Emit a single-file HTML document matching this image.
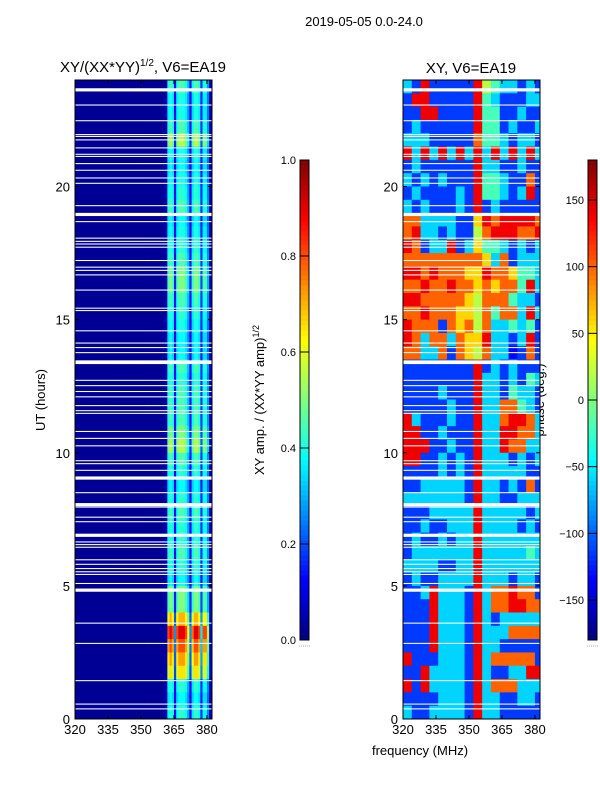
<!DOCTYPE html>
<html><head><meta charset="utf-8">
<style>
body{margin:0;background:#fff;width:600px;height:800px;overflow:hidden;font-family:"Liberation Sans",sans-serif}
svg text{font-family:"Liberation Sans",sans-serif;fill:#000}
</style></head>
<body>
<svg id="fig" width="600" height="800" viewBox="0 0 600 800" xmlns="http://www.w3.org/2000/svg">
<text x="364" y="26" font-size="13" text-anchor="middle">2019-05-05 0.0-24.0</text>
<text x="143" y="72" font-size="15" text-anchor="middle">XY/(XX*YY)<tspan font-size="10" dy="-6">1/2</tspan><tspan dy="6">, V6=EA19</tspan></text>
<text x="471" y="73" font-size="15" text-anchor="middle">XY, V6=EA19</text>
<text x="45" y="400" font-size="13" text-anchor="middle" transform="rotate(-90 45 400)">UT (hours)</text>
<text x="420" y="755" font-size="13" text-anchor="middle">frequency (MHz)</text>
<text x="264" y="400" font-size="13" text-anchor="middle" transform="rotate(-90 264 400)">XY amp. / (XX*YY amp)<tspan font-size="9" dy="-5">1/2</tspan></text>
<text x="544" y="400" font-size="13" text-anchor="middle" transform="rotate(-90 544 400)">phase (deg.)</text>
<g id="g"></g>
</svg>
<script>
// ---- data ----
const yTicks = [0,5,10,15,20];
const xTicks = [320,335,350,365,380];
const ampTicks = [0.0,0.2,0.4,0.6,0.8,1.0];
const phaseTicks = [-150,-100,-50,0,50,100,150];
// left panel: per-0.5h row level (top row = 23.5-24h) and per-1MHz column profile (320..382)
const ampRowLevel = [0.45,0.4,0.4,0.45,0.55,0.4,0.38,0.4,0.42,0.45,0.38,0.4,0.42,0.45,0.5,0.5,0.45,0.42,0.4,0.38,0.38,0.45,0.42,0.45,0.45,0.45,0.5,0.55,0.45,0.42,0.38,0.42,0.45,0.42,0.42,0.45,0.42,0.38,0.5,0.5,0.7,0.9,0.8,0.72,0.65,0.42,0.38,0.42];
const ampColProfile = [0.02,0.02,0.02,0.02,0.02,0.02,0.02,0.02,0.02,0.02,0.02,0.02,0.02,0.02,0.02,0.02,0.02,0.02,0.02,0.02,0.02,0.02,0.02,0.02,0.02,0.02,0.02,0.02,0.02,0.02,0.02,0.02,0.02,0.02,0.02,0.02,0.02,0.02,0.02,0.02,0.03,0.05,0.9,1,0.9,0.3,0.9,1,1,1,0.9,0.7,0.3,0.85,1,1,0.9,0.4,0.9,0.9,0.6,0.1,0.1];
// right panel: phase codes per 0.5h row (top first), 16 cols of 4 MHz
const phaseCodeDeg = [-170,-135,-115,-60,-20,20,60,100,140,170];
const phaseRows = ["3282222285433232","2882222284322233","2288222284422322","2322222284423223","3332222274432332","8383838383838383","2322222283322322","3232322284432272","2322223284432382","3232223282322222","7733332268788887","7833232257888778","8723382364432323","7777777776372333","8878777668776443","7787787767677483","8877777657774332","7787776657477383","8777276757334342","8737737668332382","7733727657331272","2222222282323222","2222222283323243","2222322283324332","2222232283377432","8322232283378873","8822322283388773","8882232283387733","8822323283332323","2222323283333322","2233333283323272","3333333283322333","2223333383333323","2232233383333232","2322323383333333","2333333383333343","3333223383333333","2322333383332332","2238333283778772","2228333283778877","2228333283233333","2228333283337777","2228333283322222","8222333283777772","2283333283223388","8283333283777333","2222333283322332","3223333283322222"];
// flagged (blank) times in UT hours and their durations
const gapUT = [23.63,23.06,22.47,21.95,21.88,21.75,21.45,21.21,21.13,20.86,20.61,20.32,20.12,19.28,18.95,18.68,18.06,17.94,17.84,17.72,17.22,16.97,16.85,16.68,16.11,15.43,15.34,14.58,14.12,13.95,13.76,13.40,12.72,12.52,12.30,12.10,11.77,11.58,11.48,10.80,10.54,10.26,9.70,9.59,9.34,9.05,8.50,8.05,7.96,7.58,7.41,6.90,6.65,6.55,6.45,5.98,5.81,5.65,5.53,5.43,5.09,4.84,3.60,2.84,1.44,0.56,0.38];
const gapDur = [0.12,0.04,0.04,0.04,0.04,0.04,0.04,0.04,0.04,0.04,0.04,0.04,0.04,0.04,0.12,0.04,0.04,0.04,0.04,0.04,0.04,0.04,0.04,0.04,0.04,0.04,0.04,0.04,0.04,0.04,0.04,0.14,0.04,0.04,0.04,0.04,0.04,0.04,0.04,0.04,0.04,0.04,0.04,0.04,0.04,0.12,0.04,0.12,0.04,0.04,0.04,0.12,0.04,0.04,0.04,0.04,0.04,0.04,0.04,0.04,0.04,0.12,0.04,0.04,0.04,0.04,0.04];

// ---- helpers ----
const NS="http://www.w3.org/2000/svg", G=document.getElementById('g');
function mk(t,a,p){const e=document.createElementNS(NS,t);for(const k in a)e.setAttribute(k,a[k]);(p||G).appendChild(e);return e;}
function jet(v){v=Math.max(0,Math.min(1,v));
 const f=x=>Math.round(255*Math.max(0,Math.min(1,x)));
 const r=f(1.5-Math.abs(4*v-3)),g=f(1.5-Math.abs(4*v-2)),b=f(1.5-Math.abs(4*v-1));
 return `rgb(${r},${g},${b})`;}
const T=80,B=719, F0=320,F1=382.3;
const yS=u=>B-(u/24)*(B-T);
function panel(L,R,name){
 const xS=f=>L+(f-F0)/(F1-F0)*(R-L);
 const grp=mk('g',{});
 
 
 return {xS,grp,L,R};
}
function axes(p,name){
 const {xS,L,R}=p;
 for(const u of gapUT.map((u,i)=>[u,gapDur[i]])){
  const r=mk('rect',{x:L,y:yS(u[0]+u[1]/2),width:R-L,height:Math.max(1,yS(u[0]-u[1]/2)-yS(u[0]+u[1]/2)),fill:'#fff'},p.grp);
  
  
 }
 const fr=mk('rect',{x:L,y:T,width:R-L,height:B-T,fill:'none',stroke:'#000','stroke-width':1});
 
 
 yTicks.forEach(t=>{const y=yS(t);
  mk('line',{x1:L,x2:L+4,y1:y,y2:y,stroke:'#000'});mk('line',{x1:R,x2:R-4,y1:y,y2:y,stroke:'#000'});
  const tx=mk('text',{x:L-5,y:y+5,'font-size':13,'text-anchor':'end'});tx.textContent=t;
  
  });
 xTicks.forEach(t=>{const x=xS(t);
  mk('line',{x1:x,x2:x,y1:B,y2:B-4,stroke:'#000'});mk('line',{x1:x,x2:x,y1:T,y2:T+4,stroke:'#000'});
  const tx=mk('text',{x:x,y:B+15,'font-size':13,'text-anchor':'middle'});tx.textContent=t;
  
  });
}
// left amplitude panel
const pl=panel(75,212,'amp-heatmap');
ampRowLevel.forEach((lv,ri)=>{const u1=24-ri*0.5,u0=u1-0.5;
 ampColProfile.forEach((pf,ci)=>{const f=F0+ci;
  const v=pf<0.1?pf:Math.min(1,lv*pf);
  const r=mk('rect',{x:pl.xS(f),y:yS(u1),width:pl.xS(Math.min(f+1,F1))-pl.xS(f)+0.4,height:yS(u0)-yS(u1)+0.4,fill:jet(v)},pl.grp);
  
  });});
axes(pl,'amp-axes');
// right phase panel
const pr=panel(403,540,'phase-heatmap');
phaseRows.forEach((row,ri)=>{const u1=24-ri*0.5,u0=u1-0.5;
 [...row].forEach((c,ci)=>{const f=F0+ci*4, f2=Math.min(f+4,F1);
  const d=phaseCodeDeg[+c];
  const r=mk('rect',{x:pr.xS(f),y:yS(u1),width:pr.xS(f2)-pr.xS(f)+0.4,height:yS(u0)-yS(u1)+0.4,fill:jet((d+180)/360)},pr.grp);
  
  });});
axes(pr,'phase-axes');
// colorbars
function cbar(x,ticks,lo,hi,name,fmt){
 const t=160,b=640,w=9;
 const grp=mk('g',{});
 
 
 for(let i=0;i<96;i++){const v=i/96;
  mk('rect',{x:x,y:b-(i+1)*(b-t)/96,width:w,height:(b-t)/96+0.5,fill:jet(v+0.005)},grp);}
 mk('rect',{x:x,y:t,width:w,height:b-t,fill:'none',stroke:'#000'},grp);
 ticks.forEach(v=>{const y=b-(v-lo)/(hi-lo)*(b-t);
  mk('line',{x1:x,x2:x+w,y1:y,y2:y,stroke:'#000'},grp);
  const tx=mk('text',{x:x-4,y:y+4,'font-size':11,'text-anchor':'end'},grp);tx.textContent=fmt(v);
  
  });
 mk('line',{x1:x-1,x2:x+w+1,y1:b+6,y2:b+6,stroke:'#aaa','stroke-dasharray':'1,1'},grp);
}
cbar(300,ampTicks,0,1,'amp-colorbar',v=>v.toFixed(1));
cbar(588,phaseTicks,-180,180,'phase-colorbar',v=>v<0?'\u2212'+(-v):''+v);
</script>
</body></html>
